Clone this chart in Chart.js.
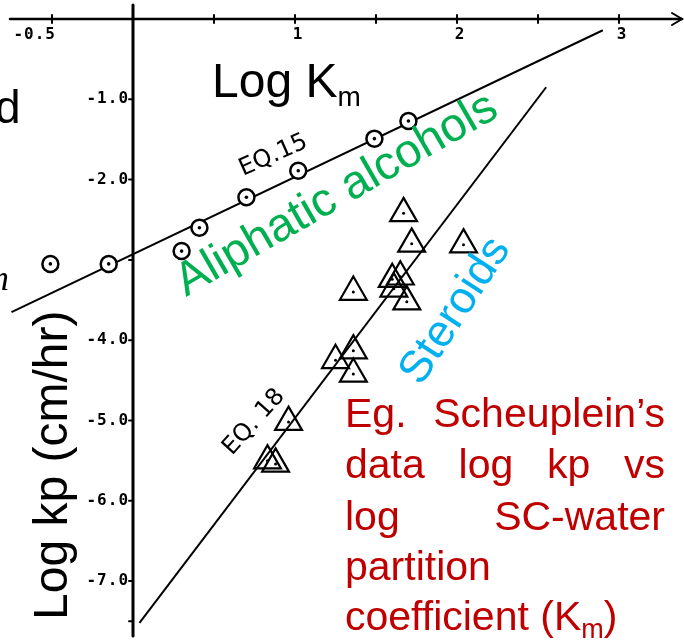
<!DOCTYPE html>
<html>
<head>
<meta charset="utf-8">
<title>Log kp vs Log Km</title>
<script src="https://cdn.jsdelivr.net/npm/chart.js@4.4.1/dist/chart.umd.min.js"></script>
<style>
  html, body { margin: 0; padding: 0; background: #fff; }
  canvas { display: block; }
</style>
</head>
<body>
<canvas id="kpChart" width="684" height="644"></canvas>
<script>
// Scheuplein's permeability data: log kp against log Km

// Aliphatic alcohols (circles) and the Eq. 15 fit
const alcoholLogKm = [-0.51, -0.15, 0.30, 0.41, 0.70, 1.02, 1.49, 1.70];
const alcoholLogKp = [-3.05, -3.05, -2.89, -2.60, -2.22, -1.89, -1.49, -1.27];
const eq15LogKm = [-0.75, 2.90];
const eq15LogKp = [-3.65, -0.14];

// Steroids (triangles) and the Eq. 18 fit
const steroidLogKm = [1.67, 1.72, 2.04, 1.36, 1.60, 1.65, 1.61, 1.69, 1.36, 1.25, 1.36, 0.96, 0.83, 0.88];
const steroidLogKp = [-2.42, -2.80, -2.81, -3.40, -3.24, -3.21, -3.36, -3.52, -4.13, -4.25, -4.42, -5.02, -5.50, -5.54];
const eq18LogKm = [0.04, 2.55];
const eq18LogKp = [-7.52, -0.85];

// axis ticks
const xTicks = [-0.5, 0.5, 1, 1.5, 2, 2.5, 3];
const xTickLabels = ['-0.5', '', '1', '', '2', '', '3'];
const yTicks = [-1, -2, -3, -4, -5, -6, -7, -7.5];
const yTickLabels = ['-1.0', '-2.0', '', '-4.0', '-5.0', '-6.0', '-7.0', ''];

const toPoints = (xs, ys) => xs.map((v, i) => ({ x: v, y: ys[i] }));

const SANS = '"Liberation Sans", Arial, sans-serif';
const RED = '#C00000';
const GREEN = '#00B050';
const CYAN = '#00B0F0';

// axes crossing at the origin, drawn like the original hand plot
const crossAxes = {
  id: 'crossAxes',
  beforeDatasetsDraw(chart) {
    const { ctx, scales: { x, y } } = chart;
    const x0 = x.getPixelForValue(0);
    const y0 = y.getPixelForValue(0);
    ctx.save();
    ctx.strokeStyle = '#000';
    ctx.fillStyle = '#000';
    ctx.lineCap = 'round';

    // horizontal axis with arrow
    ctx.lineWidth = 2.5;
    ctx.beginPath();
    ctx.moveTo(10, y0);
    ctx.lineTo(682, y0);
    ctx.stroke();
    ctx.lineWidth = 2;
    ctx.beginPath();
    ctx.moveTo(672, y0 - 6);
    ctx.lineTo(682, y0);
    ctx.lineTo(672, y0 + 6);
    ctx.stroke();

    // vertical axis
    ctx.lineWidth = 3;
    ctx.beginPath();
    ctx.moveTo(x0, 5);
    ctx.lineTo(x0, 636);
    ctx.stroke();

    ctx.font = 'bold 16px "DejaVu Sans Mono", monospace';
    ctx.letterSpacing = '1px';
    ctx.lineWidth = 2;

    xTicks.forEach((v, i) => {
      const px = x.getPixelForValue(v);
      ctx.beginPath();
      ctx.moveTo(px, y0 - 4);
      ctx.lineTo(px, y0 + 4);
      ctx.stroke();
      const label = xTickLabels[i];
      if (!label) return;
      ctx.textBaseline = 'alphabetic';
      if (v < 0) {
        ctx.textAlign = 'right';
        ctx.fillText(label, px + 4, y0 + 20);
      } else {
        ctx.textAlign = 'center';
        ctx.fillText(label, px + 3, y0 + 20);
      }
    });

    yTicks.forEach((v, i) => {
      const py = y.getPixelForValue(v);
      ctx.beginPath();
      ctx.moveTo(x0 - 4, py);
      ctx.lineTo(x0, py);
      ctx.stroke();
      const label = yTickLabels[i];
      if (!label) return;
      ctx.textAlign = 'right';
      ctx.textBaseline = 'middle';
      ctx.fillText(label, x0 - 4, py);
    });
    ctx.restore();
  }
};

function rotatedText(ctx, text, x, y, deg, font, color) {
  ctx.save();
  ctx.translate(x, y);
  ctx.rotate(deg * Math.PI / 180);
  ctx.font = font;
  ctx.fillStyle = color;
  ctx.textAlign = 'left';
  ctx.textBaseline = 'alphabetic';
  ctx.fillText(text, 0, 0);
  ctx.restore();
}

// spreads the words of a line across a fixed width
function justifiedLine(ctx, words, left, right, baseline) {
  const used = words.reduce((s, w) => s + ctx.measureText(w).width, 0);
  const gap = words.length > 1 ? (right - left - used) / (words.length - 1) : 0;
  let cx = left;
  words.forEach(w => {
    ctx.fillText(w, cx, baseline);
    cx += ctx.measureText(w).width + gap;
  });
}

const annotations = {
  id: 'annotations',
  afterDraw(chart) {
    const { ctx } = chart;
    ctx.save();
    ctx.textAlign = 'left';
    ctx.textBaseline = 'alphabetic';

    // fragments of neighbouring slide text
    ctx.fillStyle = '#000';
    ctx.font = '46px ' + SANS;
    ctx.fillText('d', -5, 123);
    ctx.font = 'italic 36px "Liberation Serif", serif';
    ctx.fillText('m', -17, 290);

    // axis titles
    ctx.font = '48px ' + SANS;
    ctx.fillText('Log K', 212, 97);
    const kw = ctx.measureText('Log K').width;
    ctx.font = '28px ' + SANS;
    ctx.fillText('m', 212 + kw, 106);

    rotatedText(ctx, 'Log kp (cm/hr)', 67, 620, -90, '48px ' + SANS, '#000');

    // equation tags on the fitted lines
    rotatedText(ctx, 'EQ.15', 243, 176, -24, '24px "DejaVu Sans", sans-serif', '#000');
    rotatedText(ctx, 'EQ. 18', 232, 456, -48, '24px "DejaVu Sans", sans-serif', '#000');

    // series names
    rotatedText(ctx, 'Aliphatic alcohols', 186, 297, -30, '47px ' + SANS, GREEN);
    rotatedText(ctx, 'Steroids', 421, 387, -57, '45px ' + SANS, CYAN);

    // caption
    ctx.fillStyle = RED;
    ctx.font = '41px ' + SANS;
    justifiedLine(ctx, ['Eg.', 'Scheuplein\u2019s'], 345, 665, 427);
    justifiedLine(ctx, ['data', 'log', 'kp', 'vs'], 345, 665, 478);
    justifiedLine(ctx, ['log', 'SC-water'], 345, 665, 530);
    ctx.fillText('partition', 345, 580);
    const head = 'coefficient (K';
    ctx.fillText(head, 345, 630);
    let cx = 345 + ctx.measureText(head).width;
    ctx.font = '27px ' + SANS;
    ctx.fillText('m', cx, 638);
    cx += ctx.measureText('m').width;
    ctx.font = '41px ' + SANS;
    ctx.fillText(')', cx, 630);
    ctx.restore();
  }
};

// higher "order" is painted first, so the fit lines sit underneath the markers
new Chart(document.getElementById('kpChart'), {
  type: 'scatter',
  data: {
    datasets: [
      {
        label: 'Eq. 15',
        data: toPoints(eq15LogKm, eq15LogKp),
        order: 6,
        showLine: true,
        borderColor: '#000',
        borderWidth: 2,
        pointRadius: 0
      },
      {
        label: 'Eq. 18',
        data: toPoints(eq18LogKm, eq18LogKp),
        order: 5,
        showLine: true,
        borderColor: '#000',
        borderWidth: 2,
        pointRadius: 0
      },
      {
        label: 'Aliphatic alcohols',
        data: toPoints(alcoholLogKm, alcoholLogKp),
        order: 4,
        pointStyle: 'circle',
        pointRadius: 8,
        borderWidth: 2.5,
        borderColor: '#000',
        backgroundColor: '#fff'
      },
      {
        label: 'alcohol centres',
        data: toPoints(alcoholLogKm, alcoholLogKp),
        order: 3,
        pointRadius: 1.8,
        borderWidth: 0,
        backgroundColor: '#000'
      },
      {
        label: 'Steroids',
        data: toPoints(steroidLogKm, steroidLogKp),
        order: 2,
        pointStyle: 'triangle',
        pointRadius: 15.5,
        borderWidth: 2.2,
        borderColor: '#000',
        backgroundColor: 'rgba(255,255,255,0)'
      },
      {
        label: 'steroid centres',
        data: toPoints(steroidLogKm, steroidLogKp),
        order: 1,
        pointRadius: 1.5,
        borderWidth: 0,
        backgroundColor: '#000'
      }
    ]
  },
  options: {
    responsive: false,
    animation: false,
    events: [],
    layout: { padding: 0, autoPadding: false },
    plugins: { legend: { display: false }, tooltip: { enabled: false } },
    scales: {
      x: { type: 'linear', display: false, min: -0.821, max: 3.401 },
      y: { type: 'linear', display: false, min: -7.783, max: 0.2366 }
    }
  },
  plugins: [crossAxes, annotations]
});
</script>
</body>
</html>
